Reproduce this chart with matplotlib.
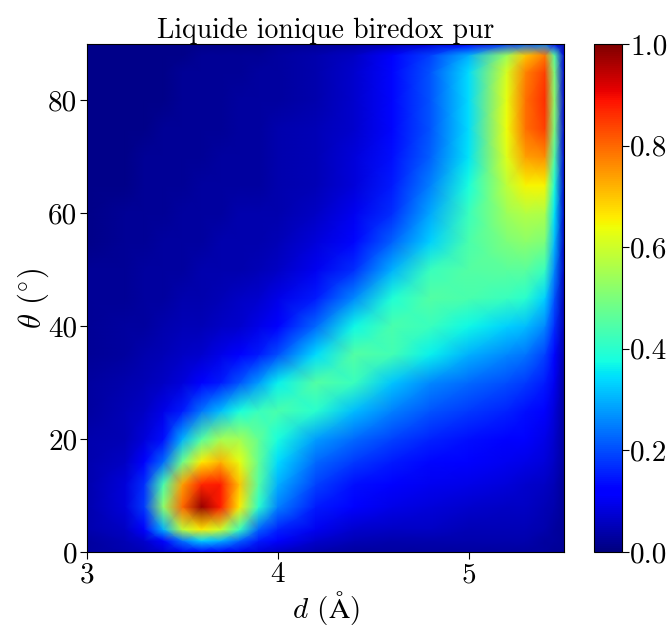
# -*- coding: utf-8 -*-
import numpy as np
import matplotlib
matplotlib.use('Agg')
import matplotlib.pyplot as plt

plt.rcParams['font.family'] = ['cmr10', 'DejaVu Serif']
plt.rcParams['mathtext.fontset'] = 'cm'
plt.rcParams['axes.formatter.use_mathtext'] = True
plt.rcParams['axes.unicode_minus'] = False

# distance (A) and angle (deg)
d_vals = [3.0, 3.2, 3.3, 3.4, 3.5, 3.6, 3.7, 3.8, 3.9, 4.0, 4.2, 4.4, 4.6, 4.8, 5.0, 5.2, 5.3, 5.4, 5.45, 5.5]
theta_vals = [0, 2, 4, 8, 12, 16, 20, 25, 30, 35, 40, 45, 50, 55, 60, 65, 70, 75, 80, 85, 88, 90]

intensity = [
    [0.03, 0.04, 0.05, 0.07, 0.10, 0.12, 0.12, 0.10, 0.08, 0.06, 0.04, 0.03, 0.03, 0.03, 0.03, 0.03, 0.03, 0.03, 0.02, 0.02],
    [0.03, 0.05, 0.07, 0.13, 0.24, 0.33, 0.30, 0.22, 0.15, 0.11, 0.07, 0.05, 0.04, 0.04, 0.04, 0.04, 0.04, 0.03, 0.03, 0.02],
    [0.04, 0.06, 0.11, 0.30, 0.58, 0.66, 0.60, 0.42, 0.22, 0.16, 0.10, 0.07, 0.06, 0.06, 0.05, 0.05, 0.05, 0.04, 0.03, 0.02],
    [0.04, 0.08, 0.18, 0.52, 0.80, 0.98, 0.88, 0.66, 0.40, 0.25, 0.15, 0.11, 0.09, 0.08, 0.07, 0.06, 0.06, 0.05, 0.04, 0.02],
    [0.04, 0.08, 0.17, 0.44, 0.74, 0.87, 0.88, 0.70, 0.45, 0.30, 0.19, 0.14, 0.11, 0.10, 0.09, 0.08, 0.07, 0.06, 0.05, 0.02],
    [0.04, 0.06, 0.11, 0.23, 0.48, 0.66, 0.72, 0.63, 0.47, 0.34, 0.23, 0.18, 0.15, 0.13, 0.11, 0.10, 0.09, 0.08, 0.06, 0.03],
    [0.04, 0.05, 0.08, 0.14, 0.30, 0.45, 0.55, 0.55, 0.47, 0.38, 0.28, 0.23, 0.19, 0.16, 0.14, 0.12, 0.11, 0.09, 0.07, 0.03],
    [0.03, 0.05, 0.06, 0.09, 0.15, 0.24, 0.31, 0.38, 0.42, 0.44, 0.40, 0.31, 0.25, 0.21, 0.18, 0.16, 0.14, 0.12, 0.08, 0.03],
    [0.03, 0.04, 0.05, 0.06, 0.08, 0.11, 0.15, 0.21, 0.28, 0.36, 0.45, 0.42, 0.32, 0.26, 0.23, 0.20, 0.18, 0.15, 0.10, 0.03],
    [0.02, 0.03, 0.04, 0.05, 0.06, 0.07, 0.09, 0.11, 0.15, 0.20, 0.34, 0.45, 0.43, 0.36, 0.30, 0.26, 0.24, 0.19, 0.13, 0.04],
    [0.02, 0.03, 0.03, 0.04, 0.05, 0.05, 0.06, 0.07, 0.09, 0.12, 0.23, 0.37, 0.44, 0.42, 0.37, 0.33, 0.31, 0.26, 0.17, 0.05],
    [0.02, 0.02, 0.03, 0.03, 0.04, 0.04, 0.05, 0.06, 0.07, 0.09, 0.15, 0.26, 0.39, 0.45, 0.44, 0.42, 0.40, 0.33, 0.21, 0.05],
    [0.02, 0.02, 0.03, 0.03, 0.03, 0.04, 0.04, 0.04, 0.05, 0.06, 0.10, 0.17, 0.30, 0.42, 0.45, 0.46, 0.46, 0.42, 0.26, 0.06],
    [0.01, 0.02, 0.02, 0.03, 0.03, 0.03, 0.04, 0.04, 0.04, 0.05, 0.08, 0.13, 0.22, 0.33, 0.44, 0.50, 0.52, 0.50, 0.31, 0.06],
    [0.01, 0.02, 0.02, 0.02, 0.03, 0.03, 0.03, 0.04, 0.04, 0.04, 0.06, 0.10, 0.17, 0.29, 0.42, 0.54, 0.57, 0.56, 0.35, 0.07],
    [0.01, 0.01, 0.02, 0.02, 0.02, 0.03, 0.03, 0.03, 0.03, 0.04, 0.05, 0.08, 0.15, 0.25, 0.38, 0.58, 0.65, 0.65, 0.39, 0.07],
    [0.01, 0.01, 0.02, 0.02, 0.02, 0.02, 0.03, 0.03, 0.03, 0.04, 0.05, 0.08, 0.14, 0.22, 0.35, 0.62, 0.74, 0.76, 0.45, 0.08],
    [0.01, 0.01, 0.01, 0.02, 0.02, 0.02, 0.02, 0.03, 0.03, 0.04, 0.05, 0.07, 0.13, 0.21, 0.34, 0.64, 0.79, 0.84, 0.50, 0.08],
    [0.01, 0.01, 0.01, 0.01, 0.02, 0.02, 0.02, 0.03, 0.03, 0.03, 0.04, 0.07, 0.13, 0.21, 0.34, 0.63, 0.79, 0.86, 0.52, 0.08],
    [0.01, 0.01, 0.01, 0.01, 0.02, 0.02, 0.02, 0.02, 0.03, 0.03, 0.04, 0.07, 0.13, 0.21, 0.34, 0.61, 0.77, 0.84, 0.50, 0.08],
    [0.01, 0.01, 0.01, 0.01, 0.01, 0.02, 0.02, 0.02, 0.02, 0.03, 0.04, 0.06, 0.11, 0.19, 0.30, 0.54, 0.70, 0.78, 0.46, 0.08],
    [0.01, 0.01, 0.01, 0.01, 0.01, 0.01, 0.01, 0.01, 0.01, 0.02, 0.02, 0.03, 0.05, 0.08, 0.12, 0.18, 0.22, 0.25, 0.14, 0.04],
]

x_ticks = [3, 4, 5]
y_ticks = [0, 20, 40, 60, 80]
cbar_ticks = [0.0, 0.2, 0.4, 0.6, 0.8, 1.0]
W, H = 668, 628

fig = plt.figure(figsize=(W / 100, H / 100), dpi=100)
ax = fig.add_axes([87 / W, 1 - 552 / H, (564 - 87) / W, (552 - 44) / H])
cax = fig.add_axes([594 / W, 1 - 552 / H, (622 - 594) / W, (552 - 44) / H])

mesh = ax.pcolormesh(d_vals, theta_vals, np.array(intensity), cmap='jet', vmin=0, vmax=1,
                     shading='gouraud', rasterized=True)
ax.set_xlim(3, 5.5)
ax.set_ylim(0, 90)
ax.set_xticks(x_ticks)
ax.set_xticklabels([str(t) for t in x_ticks])
ax.set_yticks(y_ticks)
ax.set_yticklabels([str(t) for t in y_ticks])
ax.tick_params(labelsize=21, length=5)
ax.tick_params(axis='y', pad=2)
ax.tick_params(axis='x', pad=2)
ax.set_xlabel(r'$d$ ($\mathrm{\AA}$)', fontsize=21, labelpad=1)
ax.set_ylabel(r'$\theta$ ($^{\circ}$)', fontsize=22, labelpad=-2)
ax.set_title('Liquide ionique biredox pur', fontsize=20, pad=3)

cb = fig.colorbar(mesh, cax=cax)
cb.set_ticks(cbar_ticks)
cb.set_ticklabels(['%.1f' % t for t in cbar_ticks])
cb.ax.tick_params(labelsize=21, length=5, pad=1)

plt.savefig('out.png', dpi=100)
